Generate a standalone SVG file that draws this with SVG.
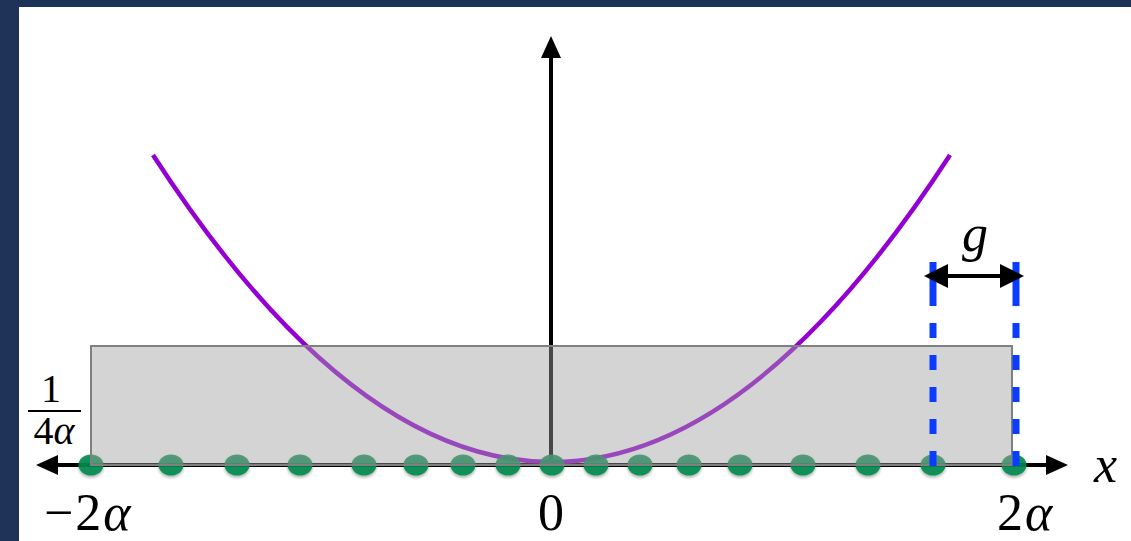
<svg xmlns="http://www.w3.org/2000/svg" width="1131" height="541" viewBox="0 0 1131 541">
  <defs>
    <style>
      .lbl { font-family: "Liberation Serif", "DejaVu Serif", serif; fill: #000; }
      .it { font-style: italic; }
      .axis { stroke: #000; stroke-width: 4; fill: none; }
      .dot { fill: #008a4e; fill-opacity: 0.9; filter: url(#sh); }
      .gap { stroke: #0a3cff; stroke-width: 7; fill: none; stroke-dasharray: 44 17 15 17 15 17 15 17 15 17 15 17; }
    </style>
    <filter id="sh" x="-50%" y="-50%" width="200%" height="200%">
      <feDropShadow dx="0" dy="2" stdDeviation="1.5" flood-color="#000" flood-opacity="0.35"/>
    </filter>
    <marker id="ah" markerUnits="userSpaceOnUse" markerWidth="22" markerHeight="20" refX="0" refY="10" orient="auto-start-reverse" viewBox="0 0 22 20">
      <path d="M0,0 L22,10 L0,20 z" fill="#000"/>
    </marker>
    <marker id="ahg" markerUnits="userSpaceOnUse" markerWidth="24" markerHeight="24" refX="0" refY="12" orient="auto-start-reverse" viewBox="0 0 24 24">
      <path d="M0,0 L24,12 L0,24 z" fill="#000"/>
    </marker>
  </defs>

  <rect id="frame" x="0" y="0" width="1131" height="541" fill="#1f3358"/>
  <rect id="panel" x="19" y="7" width="1112" height="534" fill="#ffffff"/>

  <g id="connectors">
    <line id="y-axis" class="axis" x1="551" y1="465" x2="551" y2="58" marker-end="url(#ah)"/>
    <line id="x-axis" class="axis" x1="58" y1="465" x2="1046" y2="465" marker-start="url(#ah)" marker-end="url(#ah)"/>
  </g>

  <g id="curve">
    <path d="M153,155 Q551,769 950,155" fill="none" stroke="#9400d3" stroke-width="4.5"/>
  </g>

  <g id="dots">
    <ellipse class="dot" cx="91" cy="465" rx="12.5" ry="10.5"/>
    <ellipse class="dot" cx="171" cy="465" rx="12.5" ry="10.5"/>
    <ellipse class="dot" cx="237" cy="465" rx="12.5" ry="10.5"/>
    <ellipse class="dot" cx="300" cy="465" rx="12.5" ry="10.5"/>
    <ellipse class="dot" cx="364" cy="465" rx="12.5" ry="10.5"/>
    <ellipse class="dot" cx="416" cy="465" rx="12.5" ry="10.5"/>
    <ellipse class="dot" cx="463" cy="465" rx="12.5" ry="10.5"/>
    <ellipse class="dot" cx="508" cy="465" rx="12.5" ry="10.5"/>
    <ellipse class="dot" cx="552" cy="465" rx="12.5" ry="10.5"/>
    <ellipse class="dot" cx="596" cy="465" rx="12.5" ry="10.5"/>
    <ellipse class="dot" cx="640" cy="465" rx="12.5" ry="10.5"/>
    <ellipse class="dot" cx="689" cy="465" rx="12.5" ry="10.5"/>
    <ellipse class="dot" cx="740" cy="465" rx="12.5" ry="10.5"/>
    <ellipse class="dot" cx="803" cy="465" rx="12.5" ry="10.5"/>
    <ellipse class="dot" cx="868" cy="465" rx="12.5" ry="10.5"/>
    <ellipse class="dot" cx="933" cy="465" rx="12.5" ry="10.5"/>
    <ellipse class="dot" cx="1014" cy="465" rx="12.5" ry="10.5"/>
  </g>

  <g id="box">
    <rect x="91" y="346" width="921" height="119" fill="#a0a0a0" fill-opacity="0.45" stroke="#808080" stroke-width="2"/>
  </g>

  <g id="gap-marker">
    <line class="gap" x1="933" y1="262" x2="933" y2="467"/>
    <line class="gap" x1="1016" y1="262" x2="1016" y2="467"/>
    <line x1="948" y1="276" x2="1000" y2="276" stroke="#000" stroke-width="4" marker-start="url(#ahg)" marker-end="url(#ahg)"/>
    <text class="lbl it" x="975" y="251" font-size="52" text-anchor="middle">g</text>
  </g>

  <g id="labels">
    <text class="lbl it" x="1094" y="482" font-size="52">x</text>
    <text class="lbl" x="551" y="530" font-size="52" text-anchor="middle">0</text>
    <text class="lbl" x="44" y="530" font-size="52" letter-spacing="2">−2<tspan class="it">α</tspan></text>
    <text class="lbl" x="997" y="530" font-size="52" letter-spacing="2">2<tspan class="it">α</tspan></text>
    <g id="frac">
      <text class="lbl" x="51" y="402" font-size="40" text-anchor="middle">1</text>
      <line x1="28" y1="411" x2="81" y2="411" stroke="#000" stroke-width="2"/>
      <text class="lbl" x="54" y="444" font-size="40" text-anchor="middle">4<tspan class="it">α</tspan></text>
    </g>
  </g>
</svg>
